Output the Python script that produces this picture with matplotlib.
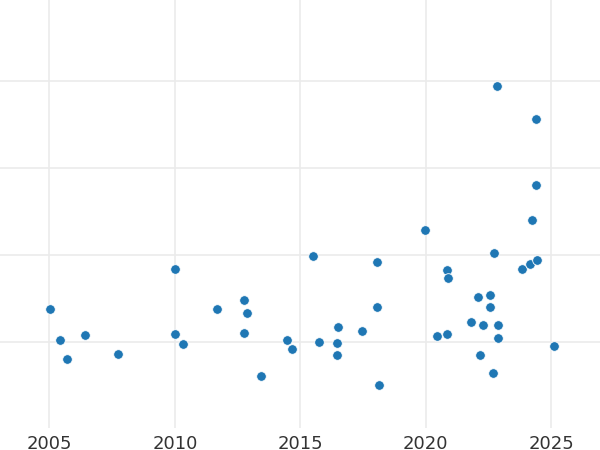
import matplotlib
matplotlib.use("Agg")
import matplotlib.pyplot as plt
import numpy as np

# data (decimal year, value in grid units)
px_x = [50, 59.7, 67.3, 84.7, 117.7, 175, 175, 182.7, 217.3, 244, 246.7, 244, 261,
        287.3, 292.7, 312.7, 318.7, 337, 338, 337, 362, 376.7, 376.7, 379.3,
        425, 437, 447.3, 448.7, 447.3, 471, 478.3, 483, 480.7, 490.7, 490.7,
        493, 494.7, 498.3, 498.3, 497.7, 536.3, 536.3, 532.3, 523, 530.7, 537.3, 554]
px_y = [307.7, 339, 357.7, 333.7, 352.7, 268, 332.7, 342.7, 307.7, 298.7, 312, 332, 374.7,
        339, 348.3, 254.7, 341, 342, 325.7, 353.7, 330, 261.3, 306, 383.7,
        229.7, 335.3, 269.3, 277.3, 333.3, 321, 296.3, 323.7, 354, 294.3, 306.3,
        371.7, 252, 324, 336.7, 85.3, 118.7, 184.7, 219.7, 267.7, 262.7, 258.7, 345.3]

years = [round(2005 + (x - 49.5) / 25.1, 2) for x in px_x]
values = [round((340.8 - y) / 86.6, 3) for y in px_y]

xticks = [2005, 2010, 2015, 2020, 2025]

fig = plt.figure(figsize=(6, 4.5), dpi=100)
ax = fig.add_axes([0, 0.049, 1, 0.951])
ax.scatter(years, values, s=48, color="#1f77b4", edgecolor="white", linewidth=0.6, zorder=3)

ax.set_xlim(2003.03, 2026.95)
ax.set_ylim(-0.99, 3.935)
ax.set_xticks(xticks)
ax.set_xticklabels([str(t) for t in xticks])
ax.set_yticks([0, 1, 2, 3])
ax.set_yticklabels([])
ax.tick_params(axis="both", length=0, labelsize=13, labelcolor="#333333", pad=5)
ax.grid(True, color="#ebebeb", linewidth=1.2, zorder=0)
ax.set_axisbelow(True)
for s in ax.spines.values():
    s.set_visible(False)

fig.savefig("out.png", dpi=100)
